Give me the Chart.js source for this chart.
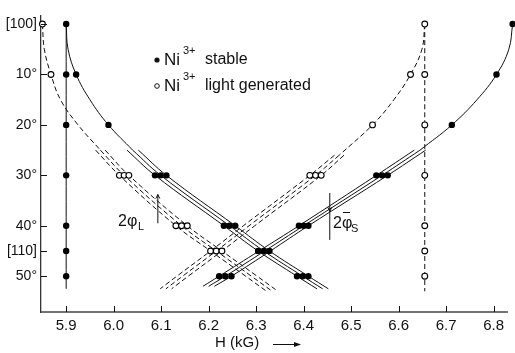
<!DOCTYPE html>
<html>
<head>
<meta charset="utf-8">
<script src="https://cdn.jsdelivr.net/npm/chart.js@4.4.1/dist/chart.umd.min.js"></script>
<style>
  html, body { margin: 0; padding: 0; background: #fff; }
</style>
</head>
<body>
<canvas id="c" width="515" height="353"></canvas>
<script>
// axis ticks
const xTicks = [5.9, 6.0, 6.1, 6.2, 6.3, 6.4, 6.5, 6.6, 6.7, 6.8];
const yTicks = [0, 10, 20, 30, 40, 45, 50];
const yTickLabels = ['[100]', '10°', '20°', '30°', '40°', '[110]', '50°'];

// Ni3+ stable: vertical line at 5.9 kG
const stableVertH = [5.9, 5.9];
const stableVertA = [0, 52.5];

// Ni3+ stable: left curve (single part, then three split lines)
const stableLeftA = [0, 5, 10, 15, 20, 25];
const stableLeftH = [5.9, 5.904, 5.921, 5.950, 5.989, 6.040];
const stableLeftSplitA = [25, 30, 40, 45, 50, 52.5];
const stableLeftSplit1 = [6.028, 6.087, 6.232, 6.304, 6.386, 6.428];
const stableLeftSplit2 = [6.040, 6.099, 6.244, 6.316, 6.398, 6.440];
const stableLeftSplit3 = [6.052, 6.111, 6.256, 6.328, 6.410, 6.452];

// Ni3+ stable: right curve
const stableRightA = [0, 5, 10, 15, 20, 25];
const stableRightH = [6.840, 6.832, 6.806, 6.765, 6.712, 6.645];
const stableRightSplitA = [25, 30, 40, 45, 50, 52];
const stableRightSplit1 = [6.633, 6.553, 6.390, 6.306, 6.222, 6.188];
const stableRightSplit2 = [6.645, 6.565, 6.400, 6.318, 6.235, 6.200];
const stableRightSplit3 = [6.657, 6.577, 6.410, 6.330, 6.248, 6.212];

// Ni3+ light generated: vertical line at 6.655 kG
const lightVertH = [6.655, 6.655];
const lightVertA = [0, 53];

// Ni3+ light generated: left curve
const lightLeftA = [0, 5, 10, 15, 20, 25];
const lightLeftH = [5.850, 5.854, 5.868, 5.888, 5.925, 5.972];
const lightLeftSplitA = [25, 30, 40, 45, 50, 53];
const lightLeftSplit1 = [5.962, 6.012, 6.131, 6.204, 6.278, 6.322];
const lightLeftSplit2 = [5.972, 6.022, 6.143, 6.216, 6.290, 6.334];
const lightLeftSplit3 = [5.982, 6.032, 6.155, 6.228, 6.302, 6.346];

// Ni3+ light generated: right curve
const lightRightA = [0, 5, 10, 15, 20, 26];
const lightRightH = [6.655, 6.649, 6.625, 6.590, 6.545, 6.475];
const lightRightSplitA = [26, 30, 40, 45, 50, 52.5];
const lightRightSplit1 = [6.465, 6.413, 6.273, 6.204, 6.133, 6.098];
const lightRightSplit2 = [6.475, 6.425, 6.285, 6.216, 6.145, 6.110];
const lightRightSplit3 = [6.485, 6.437, 6.297, 6.228, 6.157, 6.122];

// measured points
const stablePointH = [5.9, 5.9, 5.9, 5.9, 5.9, 5.9, 5.9,
  5.921, 5.989, 6.840, 6.806, 6.712,
  6.087, 6.099, 6.111, 6.553, 6.565, 6.577,
  6.232, 6.244, 6.256, 6.390, 6.400, 6.410,
  6.304, 6.316, 6.328,
  6.222, 6.235, 6.248, 6.386, 6.398, 6.410];
const stablePointA = [0, 10, 20, 30, 40, 45, 50,
  10, 20, 0, 10, 20,
  30, 30, 30, 30, 30, 30,
  40, 40, 40, 40, 40, 40,
  45, 45, 45,
  50, 50, 50, 50, 50, 50];
const lightPointH = [6.655, 6.655, 6.655, 6.655, 6.655, 6.655, 6.655,
  5.850, 5.868, 6.625, 6.545,
  6.012, 6.022, 6.032, 6.413, 6.425, 6.437,
  6.131, 6.143, 6.155,
  6.204, 6.216, 6.228];
const lightPointA = [0, 10, 20, 30, 40, 45, 50,
  0, 10, 10, 20,
  30, 30, 30, 30, 30, 30,
  40, 40, 40,
  45, 45, 45];

const FONT = '"Liberation Sans", Arial, sans-serif';
const INK = '#111';

function pts(hs, as) {
  return hs.map((h, i) => ({ x: h, y: as[i] }));
}

function lineDs(hs, as, dashed) {
  return {
    data: pts(hs, as),
    showLine: true,
    pointRadius: 0,
    borderColor: INK,
    borderWidth: 1,
    borderDash: dashed ? [5, 3] : [],
    tension: 0.4,
    fill: false,
    clip: false,
    order: 2
  };
}

const datasets = [
  lineDs(stableVertH, stableVertA, false),
  lineDs(stableLeftH, stableLeftA, false),
  lineDs(stableLeftSplit1, stableLeftSplitA, false),
  lineDs(stableLeftSplit2, stableLeftSplitA, false),
  lineDs(stableLeftSplit3, stableLeftSplitA, false),
  lineDs(stableRightH, stableRightA, false),
  lineDs(stableRightSplit1, stableRightSplitA, false),
  lineDs(stableRightSplit2, stableRightSplitA, false),
  lineDs(stableRightSplit3, stableRightSplitA, false),
  lineDs(lightVertH, lightVertA, true),
  lineDs(lightLeftH, lightLeftA, true),
  lineDs(lightLeftSplit1, lightLeftSplitA, true),
  lineDs(lightLeftSplit2, lightLeftSplitA, true),
  lineDs(lightLeftSplit3, lightLeftSplitA, true),
  lineDs(lightRightH, lightRightA, true),
  lineDs(lightRightSplit1, lightRightSplitA, true),
  lineDs(lightRightSplit2, lightRightSplitA, true),
  lineDs(lightRightSplit3, lightRightSplitA, true),
  {
    data: pts(stablePointH, stablePointA),
    showLine: false,
    pointRadius: 3.2,
    pointBackgroundColor: '#000',
    pointBorderWidth: 0,
    clip: false,
    order: 1
  },
  {
    data: pts(lightPointH, lightPointA),
    showLine: false,
    pointRadius: 2.9,
    pointBackgroundColor: '#fff',
    pointBorderColor: '#000',
    pointBorderWidth: 1.1,
    clip: false,
    order: 0
  }
];

// bottom axis line, inward tick marks, legend, annotations, axis title
const decor = {
  id: 'decor',
  afterDraw(chart) {
    const ctx = chart.ctx;
    const xs = chart.scales.x, ys = chart.scales.y;
    const area = chart.chartArea;
    ctx.save();
    ctx.strokeStyle = '#444';
    ctx.lineWidth = 1.5;
    ctx.beginPath();
    ctx.moveTo(area.left, area.bottom);
    ctx.lineTo(xs.getPixelForValue(6.83), area.bottom);
    ctx.stroke();

    ctx.strokeStyle = INK;
    ctx.fillStyle = INK;
    ctx.lineWidth = 1;
    ctx.beginPath();
    xTicks.forEach(v => {
      const px = Math.round(xs.getPixelForValue(v)) + 0.5;
      ctx.moveTo(px, area.bottom);
      ctx.lineTo(px, area.bottom - 6);
    });
    yTicks.forEach(v => {
      const py = Math.round(ys.getPixelForValue(v)) + 0.5;
      ctx.moveTo(area.left, py);
      ctx.lineTo(area.left + 6, py);
    });
    ctx.stroke();

    // legend
    const rows = [{ y: 60, filled: true, text: 'stable' }, { y: 86, filled: false, text: 'light generated' }];
    rows.forEach(r => {
      ctx.beginPath();
      ctx.arc(157, r.y, r.filled ? 2.6 : 2.3, 0, Math.PI * 2);
      if (r.filled) { ctx.fill(); } else { ctx.fillStyle = '#fff'; ctx.fill(); ctx.fillStyle = INK; ctx.stroke(); }
      ctx.textBaseline = 'middle';
      ctx.textAlign = 'left';
      ctx.font = '17px ' + FONT;
      ctx.fillText('Ni', 164, r.y);
      ctx.font = '11px ' + FONT;
      ctx.fillText('3+', 183, r.y - 9);
      ctx.font = '16px ' + FONT;
      ctx.fillText(r.text, 205, r.y);
    });

    // 2phi_L
    ctx.textBaseline = 'alphabetic';
    ctx.font = '16px ' + FONT;
    ctx.fillText('2φ', 118, 226);
    ctx.font = '11px ' + FONT;
    ctx.fillText('L', 138, 230);
    const lx = xs.getPixelForValue(6.093);
    ctx.beginPath();
    ctx.moveTo(lx, ys.getPixelForValue(33.8));
    ctx.lineTo(lx, ys.getPixelForValue(39.5));
    ctx.moveTo(lx - 2, ys.getPixelForValue(34.6));
    ctx.lineTo(lx, ys.getPixelForValue(33.8));
    ctx.lineTo(lx + 2, ys.getPixelForValue(34.6));
    ctx.stroke();

    // 2phi_S
    const sx = xs.getPixelForValue(6.455);
    ctx.beginPath();
    ctx.moveTo(sx, ys.getPixelForValue(33.5));
    ctx.lineTo(sx, ys.getPixelForValue(42.8));
    ctx.moveTo(sx - 2, ys.getPixelForValue(36.3));
    ctx.lineTo(sx, ys.getPixelForValue(37.2));
    ctx.lineTo(sx + 2, ys.getPixelForValue(36.3));
    ctx.stroke();
    ctx.font = '16px ' + FONT;
    ctx.fillText('2φ', 333, 228);
    ctx.beginPath();
    ctx.moveTo(343, 212.5);
    ctx.lineTo(350, 212.5);
    ctx.stroke();
    ctx.font = '11px ' + FONT;
    ctx.fillText('S', 351, 232);

    // axis title
    ctx.font = '15px ' + FONT;
    ctx.textBaseline = 'middle';
    ctx.fillText('H (kG)', 215, 343);
    ctx.beginPath();
    ctx.moveTo(273, 344.5);
    ctx.lineTo(300, 344.5);
    ctx.stroke();
    ctx.beginPath();
    ctx.moveTo(301, 344.5);
    ctx.lineTo(294, 342);
    ctx.lineTo(294, 347);
    ctx.closePath();
    ctx.fill();

    ctx.restore();
  }
};

new Chart(document.getElementById('c'), {
  type: 'scatter',
  data: { datasets: datasets },
  options: {
    responsive: false,
    animation: false,
    events: [],
    layout: { autoPadding: false, padding: { top: 16, right: 0, bottom: 0, left: 0 } },
    plugins: { legend: { display: false }, tooltip: { enabled: false } },
    scales: {
      x: {
        type: 'linear',
        min: 5.847,
        max: 6.845,
        grid: { display: false, drawTicks: false },
        border: { display: false },
        ticks: {
          color: INK,
          padding: 5,
          font: { family: FONT, size: 15 },
          callback: v => v.toFixed(1)
        },
        afterBuildTicks: s => { s.ticks = xTicks.map(v => ({ value: v })); },
        afterFit: s => { s.height = 41; }
      },
      y: {
        type: 'linear',
        reverse: true,
        min: -1.6,
        max: 57.1,
        grid: { display: false, drawTicks: false },
        border: { display: true, color: '#333', width: 1.3 },
        ticks: {
          color: INK,
          padding: 4,
          font: { family: FONT, size: 14 },
          callback: v => {
            const i = yTicks.indexOf(v);
            return i >= 0 ? yTickLabels[i] : '';
          }
        },
        afterBuildTicks: s => { s.ticks = yTicks.map(v => ({ value: v })); },
        afterFit: s => { s.width = 41; }
      }
    }
  },
  plugins: [decor]
});
</script>
</body>
</html>
